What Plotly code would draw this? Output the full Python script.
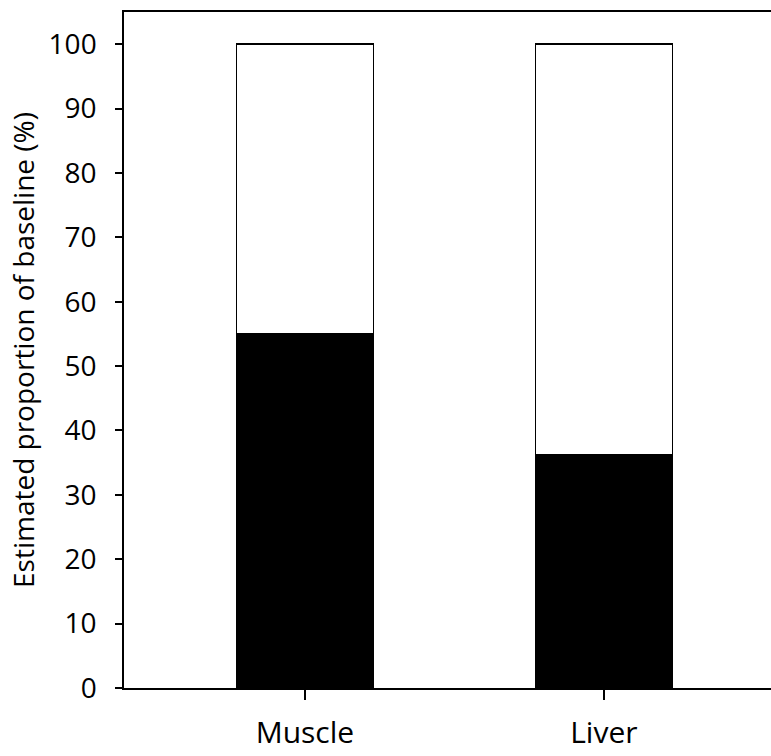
import plotly.graph_objects as go

categories = ["Muscle", "Liver"]
black_values = [55.0, 36.3]
white_values = [45.0, 63.7]
y_ticks = [0, 10, 20, 30, 40, 50, 60, 70, 80, 90, 100]

FONT = "Open Sans"

fig = go.Figure()
fig.add_trace(go.Bar(x=categories, y=black_values, marker=dict(color="black", line=dict(color="black", width=1.5)),
                     width=0.458, showlegend=False))
fig.add_trace(go.Bar(x=categories, y=white_values, marker=dict(color="white", line=dict(color="black", width=1.5)),
                     width=0.458, showlegend=False))

fig.update_layout(
    barmode="stack",
    width=771, height=756,
    margin=dict(l=124, r=0, t=12, b=68),
    plot_bgcolor="white", paper_bgcolor="white",
    font=dict(family=FONT, color="black"),
    xaxis=dict(range=[-0.605, 1.559], showline=True, linecolor="black", linewidth=1.5, mirror=True,
               ticks="outside", ticklen=10, tickwidth=1.5, tickcolor="black", automargin=False,
               tickfont=dict(size=30, family=FONT), ticklabelstandoff=7, showgrid=False, zeroline=False),
    yaxis=dict(range=[0, 105], showline=True, linecolor="black", linewidth=1.5,
               ticks="outside", ticklen=7, tickwidth=1.5, tickcolor="black", automargin=False,
               tickvals=y_ticks, tickfont=dict(size=28, family=FONT), ticklabelstandoff=13,
               showgrid=False, zeroline=False,
               title=dict(text="Estimated proportion of baseline (%)", font=dict(size=28, family=FONT), standoff=6)),
)

fig.write_html("out.html", config={"displayModeBar": False},
               post_script="document.body.style.margin='0px';document.body.style.overflow='hidden';")
